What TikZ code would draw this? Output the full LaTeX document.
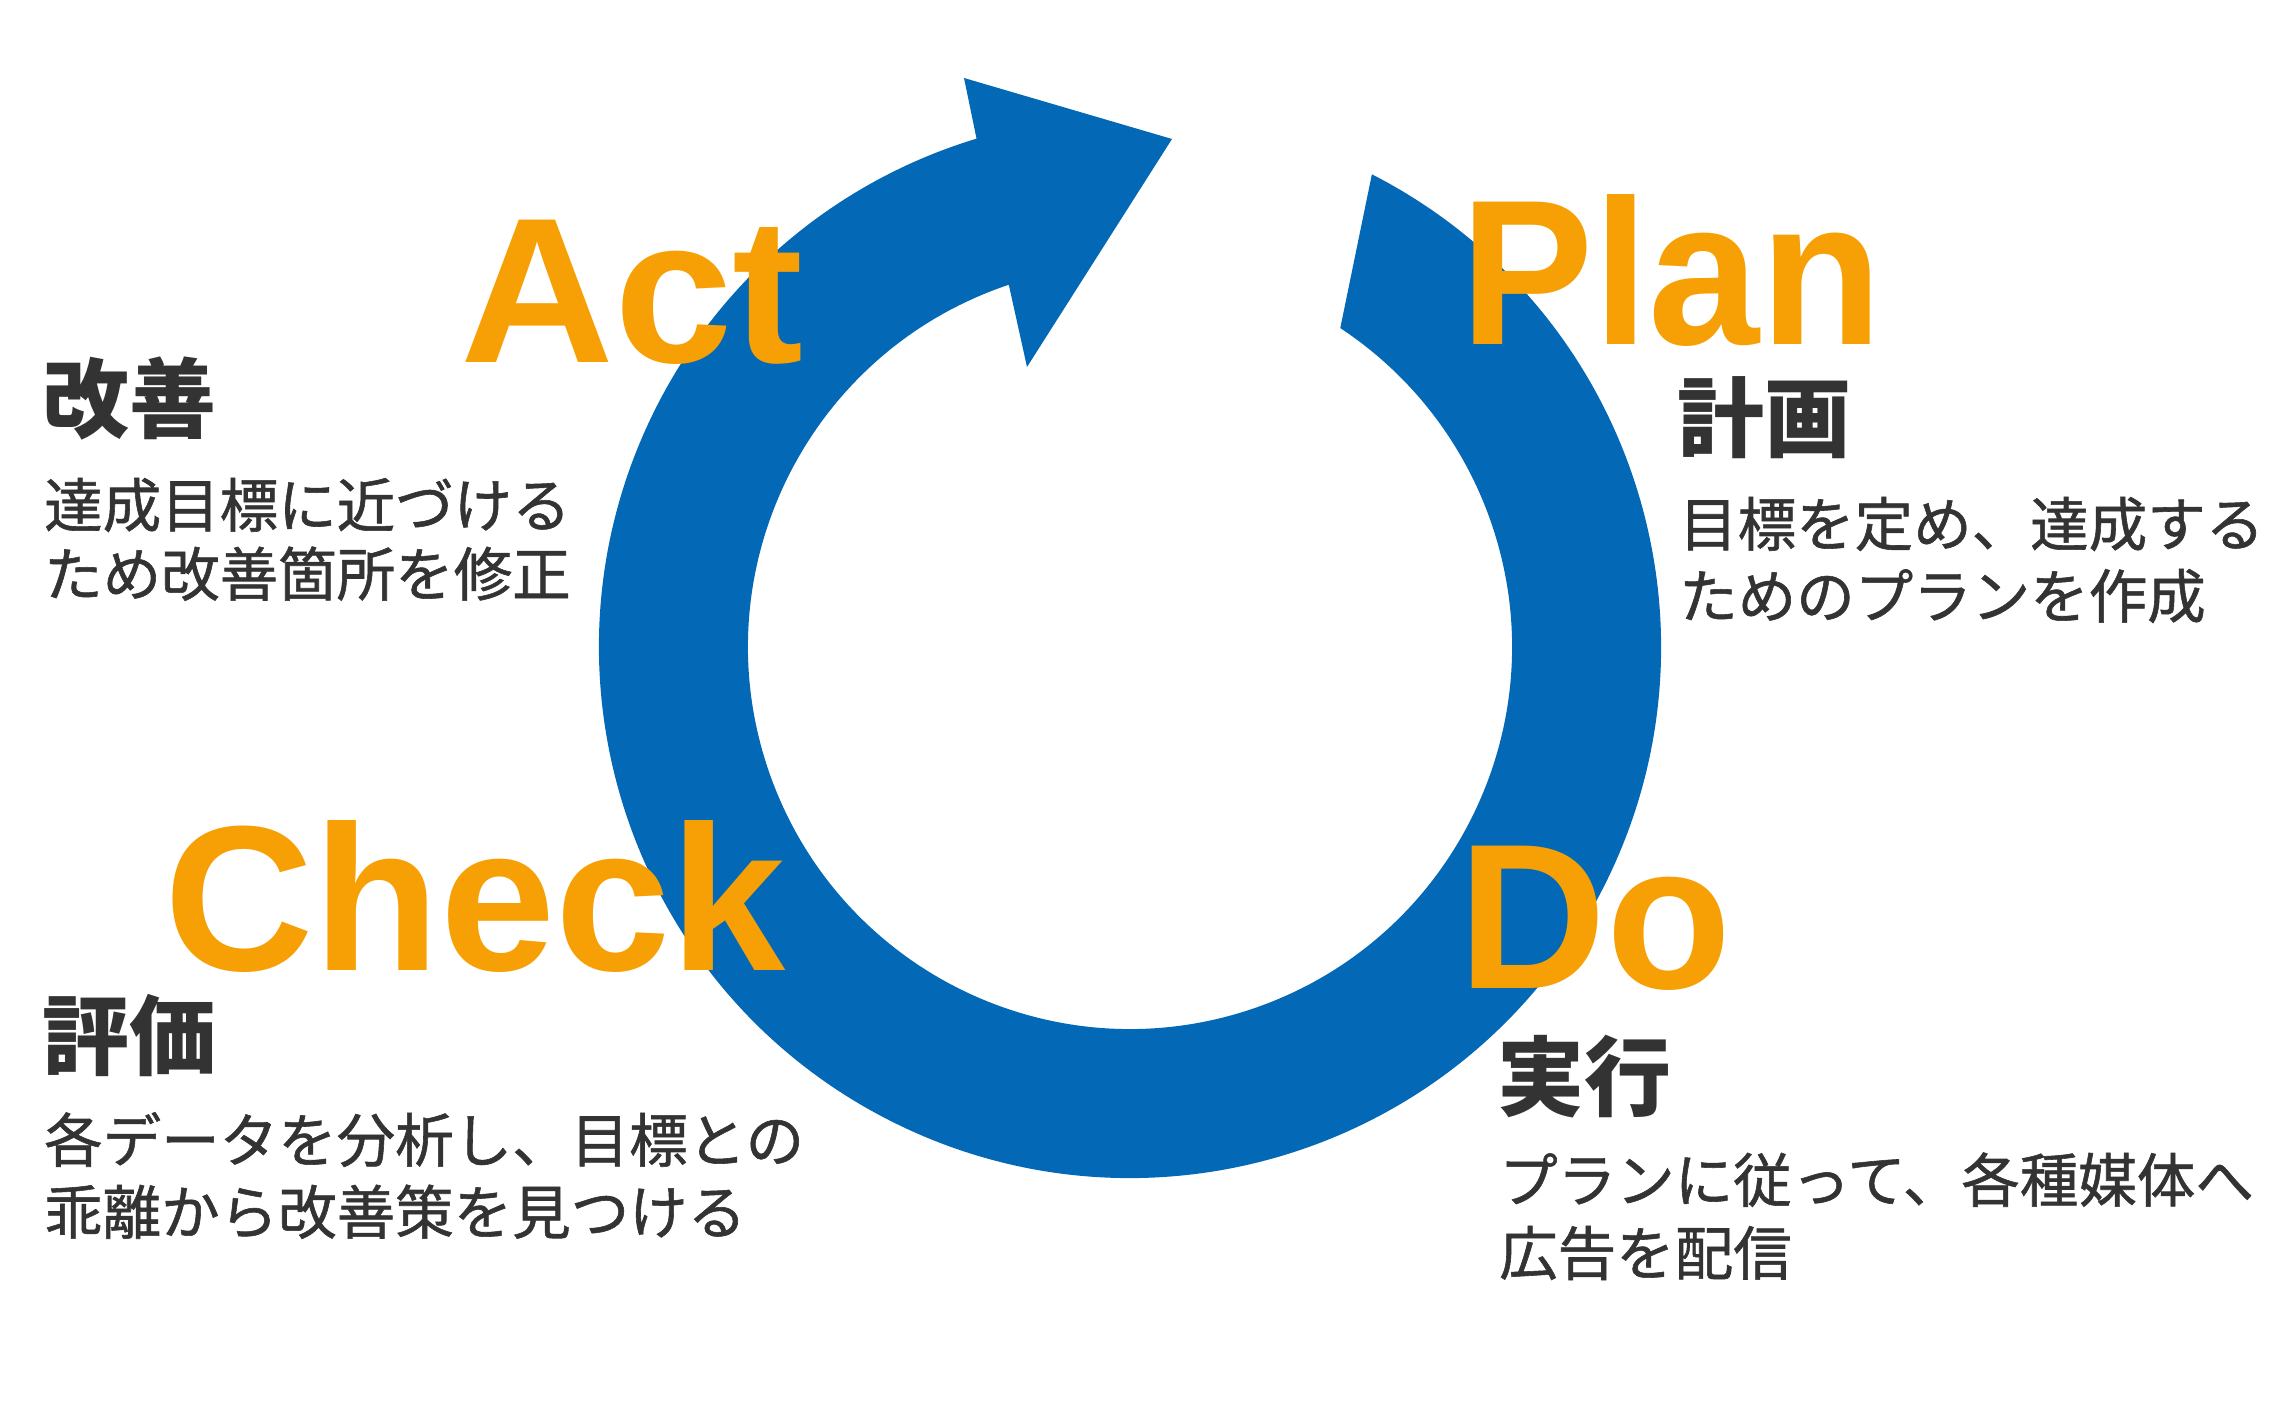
\documentclass[tikz,border=0pt]{standalone}
\usepackage{fontspec}
\usepackage{graphicx}
\usetikzlibrary{calc}
\setmainfont{Liberation Sans}
\newfontfamily\jpfont{Noto Sans CJK JP}
\newfontfamily\jpmed[FakeBold=1]{Noto Sans CJK JP}
\definecolor{ringblue}{HTML}{0368B6}
\definecolor{pdcaorange}{HTML}{F7A005}
\definecolor{textgray}{HTML}{333333}
\tikzset{
  bigword/.style={anchor=base west, inner sep=0pt, text depth=0pt, text=pdcaorange, font=\bfseries\fontsize{207}{207}\selectfont},
  headjp/.style={anchor=base west, inner sep=0pt, text=textgray, font=\jpfont\bfseries\fontsize{87}{87}\selectfont},
  bodyjp/.style={anchor=base west, inner sep=0pt, text=textgray, font=\jpmed\fontsize{58.5}{58.5}\selectfont},
}
\begin{document}
\begin{tikzpicture}[x=1pt,y=1pt]
\useasboundingbox (0,0) rectangle (2280,1400);
\coordinate (c) at (1130,753);
% ring with arrow head
\fill[ringblue] ($(c)+(62.9:531pt)$) arc[start angle=62.9, end angle=-253.2, radius=531pt]
  -- (964,1322) -- (1172,1261) -- (1027,1033)
  -- ($(c)+(108.5:382pt)$) arc[start angle=-251.5, end angle=56.6, radius=382pt] -- cycle;
% big words
\node[bigword] (act) at (460,1037) {\scalebox{1.03}[1]{Act}};
\node[bigword] (plan) at (1460,1055) {\scalebox{0.965}[1]{Plan}};
\node[bigword] (check) at (164,429) {\scalebox{1.0}[1]{Check}};
\node[bigword] (do) at (1458,411) {\scalebox{0.99}[1]{Do}};
% Act texts
\node[headjp] (acth) at (42,968) {改善};
\node[bodyjp] (act1) at (44,873) {達成目標に近づける};
\node[bodyjp] (act2) at (44,804) {ため改善箇所を修正};
% Plan texts
\node[headjp] (planh) at (1677,949) {計画};
\node[bodyjp] (plan1) at (1679,854) {目標を定め、達成する};
\node[bodyjp] (plan2) at (1679,782) {ためのプランを作成};
% Check texts
\node[headjp] (checkh) at (42,331) {評価};
\node[bodyjp] (check1) at (44,238) {各データを分析し、目標との};
\node[bodyjp] (check2) at (44,166) {乖離から改善策を見つける};
% Do texts
\node[headjp] (doh) at (1497,290) {実行};
\node[bodyjp] (do1) at (1499,198) {プランに従って、各種媒体へ};
\node[bodyjp] (do2) at (1499,125) {広告を配信};
\end{tikzpicture}
\end{document}
